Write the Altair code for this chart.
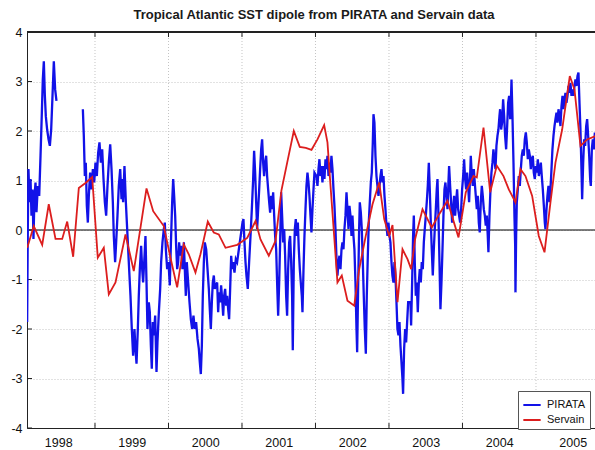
import altair as alt
import pandas as pd

TITLE = "Tropical Atlantic SST dipole from PIRATA and Servain data"

# PIRATA dipole index, first stretch of 1998 (gap follows)
pirata_t1 = [1998.077, 1998.086, 1998.095, 1998.109, 1998.123, 1998.136, 1998.150, 1998.163,
             1998.177, 1998.191, 1998.204, 1998.222, 1998.241, 1998.259, 1998.277, 1998.290,
             1998.304, 1998.318, 1998.331, 1998.349, 1998.368, 1998.386, 1998.404, 1998.422,
             1998.440, 1998.458, 1998.476]
pirata_v1 = [-1.86, 0.02, 1.23, 0.56, 1.03, 0.29, 0.82, -0.18,
             0.69, 0.96, 0.36, 0.89, 0.69, 1.50, 2.37, 3.04,
             3.41, 2.71, 2.30, 2.03, 1.83, 1.70, 2.03, 2.71,
             3.41, 2.84, 2.61]

# PIRATA dipole index, late 1998 onwards
pirata_t2 = [
    1998.835, 1998.848, 1998.862, 1998.875, 1998.889, 1998.903, 1998.916, 1998.934, 1998.953, 1998.971,
    1998.989, 1999.007, 1999.025, 1999.043, 1999.061, 1999.080, 1999.098, 1999.116, 1999.134, 1999.152,
    1999.170, 1999.188, 1999.207, 1999.225, 1999.243, 1999.256, 1999.274, 1999.288, 1999.306, 1999.324,
    1999.343, 1999.361, 1999.365, 1999.383, 1999.401, 1999.420, 1999.438, 1999.460, 1999.483, 1999.501,
    1999.519, 1999.537, 1999.551, 1999.565, 1999.583, 1999.596, 1999.610, 1999.628, 1999.642, 1999.655,
    1999.674, 1999.687, 1999.701, 1999.714, 1999.732, 1999.746, 1999.760, 1999.773, 1999.787, 1999.800,
    1999.819, 1999.837, 1999.850, 1999.869, 1999.887, 1999.900, 1999.918, 1999.937, 1999.950, 1999.964,
    1999.982, 2000.000, 2000.018, 2000.032, 2000.050, 2000.064, 2000.077, 2000.091, 2000.104, 2000.118,
    2000.132, 2000.145, 2000.159, 2000.172, 2000.190, 2000.209, 2000.222, 2000.236, 2000.249, 2000.268,
    2000.286, 2000.304, 2000.322, 2000.340, 2000.358, 2000.376, 2000.395, 2000.413, 2000.426, 2000.440,
    2000.454, 2000.467, 2000.481, 2000.494, 2000.513, 2000.531, 2000.549, 2000.562, 2000.576, 2000.590,
    2000.603, 2000.617, 2000.630, 2000.662, 2000.676, 2000.689, 2000.703, 2000.716, 2000.730, 2000.744,
    2000.757, 2000.771, 2000.785, 2000.798, 2000.812, 2000.825, 2000.839, 2000.853, 2000.866, 2000.880,
    2000.898, 2000.916, 2000.934, 2000.952, 2000.970, 2000.989, 2001.007, 2001.020, 2001.034, 2001.048,
    2001.061, 2001.079, 2001.097, 2001.116, 2001.134, 2001.152, 2001.165, 2001.179, 2001.193, 2001.206,
    2001.220, 2001.234, 2001.247, 2001.261, 2001.274, 2001.288, 2001.301, 2001.315, 2001.329, 2001.342,
    2001.356, 2001.370, 2001.383, 2001.397, 2001.410, 2001.424, 2001.438, 2001.451, 2001.465, 2001.478,
    2001.492, 2001.506, 2001.519, 2001.533, 2001.546, 2001.560, 2001.574, 2001.587, 2001.601, 2001.614,
    2001.628, 2001.642, 2001.655, 2001.669, 2001.682, 2001.691, 2001.705, 2001.719, 2001.732, 2001.746,
    2001.760, 2001.773, 2001.787, 2001.800, 2001.814, 2001.823, 2001.837, 2001.850, 2001.864, 2001.877,
    2001.891, 2001.905, 2001.918, 2001.932, 2001.945, 2001.959, 2001.973, 2001.986, 2002.013, 2002.027,
    2002.041, 2002.054, 2002.068, 2002.081, 2002.095, 2002.109, 2002.122, 2002.136, 2002.149, 2002.163,
    2002.177, 2002.190, 2002.204, 2002.217, 2002.231, 2002.245, 2002.258, 2002.272, 2002.286, 2002.299,
    2002.313, 2002.326, 2002.340, 2002.354, 2002.367, 2002.381, 2002.394, 2002.408, 2002.422, 2002.435,
    2002.449, 2002.462, 2002.476, 2002.490, 2002.503, 2002.517, 2002.530, 2002.544, 2002.558, 2002.567,
    2002.580, 2002.594, 2002.603, 2002.617, 2002.630, 2002.644, 2002.657, 2002.671, 2002.685, 2002.698,
    2002.712, 2002.725, 2002.739, 2002.753, 2002.766, 2002.780, 2002.789, 2002.802, 2002.816, 2002.830,
    2002.843, 2002.857, 2002.871, 2002.884, 2002.898, 2002.911, 2002.925, 2002.939, 2002.952, 2002.966,
    2002.979, 2002.993, 2003.007, 2003.020, 2003.034, 2003.047, 2003.061, 2003.075, 2003.088, 2003.102,
    2003.115, 2003.129, 2003.143, 2003.156, 2003.170, 2003.183, 2003.192, 2003.206, 2003.220, 2003.233,
    2003.247, 2003.261, 2003.292, 2003.301, 2003.315, 2003.328, 2003.338, 2003.351, 2003.365, 2003.378,
    2003.392, 2003.406, 2003.419, 2003.433, 2003.446, 2003.460, 2003.474, 2003.487, 2003.501, 2003.514,
    2003.528, 2003.542, 2003.555, 2003.569, 2003.582, 2003.596, 2003.610, 2003.623, 2003.637, 2003.650,
    2003.660, 2003.673, 2003.687, 2003.700, 2003.714, 2003.728, 2003.741, 2003.755, 2003.768, 2003.782,
    2003.796, 2003.809, 2003.818, 2003.832, 2003.845, 2003.859, 2003.873, 2003.886, 2003.900, 2003.913,
    2003.927, 2003.941, 2003.954, 2003.968, 2003.982, 2003.995, 2004.009, 2004.022, 2004.036, 2004.050,
    2004.063, 2004.077, 2004.090, 2004.104, 2004.113, 2004.127, 2004.140, 2004.154, 2004.167, 2004.181,
    2004.195, 2004.208, 2004.222, 2004.235, 2004.249, 2004.263, 2004.276, 2004.290, 2004.304, 2004.317,
    2004.331, 2004.344, 2004.353, 2004.367, 2004.381, 2004.394, 2004.408, 2004.421, 2004.435, 2004.449,
    2004.462, 2004.476, 2004.489, 2004.503, 2004.512, 2004.526, 2004.539, 2004.553, 2004.567, 2004.580,
    2004.594, 2004.608, 2004.621, 2004.635, 2004.649, 2004.658, 2004.667, 2004.680, 2004.694, 2004.707,
    2004.717, 2004.721, 2004.730, 2004.739, 2004.753, 2004.766, 2004.780, 2004.794, 2004.807, 2004.821,
    2004.834, 2004.848, 2004.862, 2004.875, 2004.889, 2004.902, 2004.916, 2004.930, 2004.943, 2004.957,
    2004.970, 2004.984, 2004.998, 2005.011, 2005.025, 2005.039, 2005.052, 2005.066, 2005.079, 2005.093,
    2005.107, 2005.120, 2005.129, 2005.143, 2005.156, 2005.170, 2005.184, 2005.197, 2005.211, 2005.224,
    2005.238, 2005.252, 2005.265, 2005.279, 2005.292, 2005.306, 2005.320, 2005.333, 2005.347, 2005.361,
    2005.374, 2005.388, 2005.401, 2005.415, 2005.429, 2005.442, 2005.456, 2005.469, 2005.483, 2005.497,
    2005.510, 2005.524, 2005.537, 2005.551, 2005.565, 2005.578, 2005.592, 2005.605, 2005.619, 2005.628,
    2005.642, 2005.655, 2005.669, 2005.683, 2005.696, 2005.710, 2005.724, 2005.737, 2005.746, 2005.760,
    2005.773, 2005.787, 2005.801, 2005.810]
pirata_v2 = [
    2.44, 1.90, 1.09, 1.36, 0.49, 0.15, 0.69, 1.16, 0.82, 1.23,
    0.96, 1.36, 1.09, 1.56, 1.77, 1.36, 1.63, 1.03, 0.56, 0.29,
    0.89, 1.36, 1.73, 1.23, 0.56, -0.12, -0.65, -0.25, 0.29, 0.89,
    1.23, 0.62, 1.03, 0.56, 1.29, 0.56, 0.02, -0.65, -1.33, -2.00,
    -2.54, -2.00, -2.40, -2.70, -2.00, -1.33, -0.79, -0.32, -0.79, -1.06,
    -0.52, -0.12, -1.06, -2.00, -1.46, -1.66, -2.33, -2.80, -1.86, -2.13,
    -1.73, -2.87, -2.27, -1.66, -1.19, -0.65, -0.25, 0.02, 0.15, -0.39,
    -0.79, -0.65, -1.12, -0.32, 0.56, 1.03, 0.69, 0.29, -0.32, -0.79,
    -0.65, -0.25, -0.52, -0.32, -0.79, -0.25, -0.79, -1.33, -0.65, -1.06,
    -1.46, -1.80, -2.00, -1.73, -2.00, -1.86, -2.20, -2.40, -2.67, -2.91,
    -2.33, -1.33, -0.65, -0.25, -0.39, -0.79, -1.19, -1.60, -2.00, -1.46,
    -1.06, -0.92, -1.19, -1.06, -1.66, -1.26, -1.46, -1.12, -1.39, -1.73,
    -1.33, -1.19, -1.53, -1.33, -1.60, -1.80, -1.19, -0.52, -0.79, -0.65,
    -0.86, -0.59, -0.65, -0.45, -0.25, -0.05, 0.15, 0.22, -0.25, -0.65,
    -0.92, -1.19, -0.65, -0.12, 0.42, 1.03, 1.60, 1.16, 0.56, 0.02,
    0.42, 0.82, 1.23, 1.63, 1.83, 1.36, 1.09, 1.36, 1.50, 1.09,
    0.82, 0.56, 0.35, 0.69, 0.42, 0.76, 0.29, -0.12, -0.39, -1.06,
    -1.73, -1.06, -0.25, 0.76, 0.29, -0.25, 0.02, -0.52, -1.33, -1.73,
    -0.79, -0.25, -0.12, -0.65, -1.33, -2.43, -0.65, 0.02, 0.22, -0.12,
    0.15, -0.39, -0.79, -1.06, -1.33, -1.66, -0.79, -0.12, 0.42, 0.89,
    1.16, 0.96, 0.69, 0.29, -0.05, 0.42, 0.82, 1.16, 1.09, 0.89,
    1.23, 1.43, 1.09, 1.29, 0.96, 1.29, 1.03, 1.43, 1.23, 1.50,
    1.09, 1.36, 1.16, 1.50, 1.23, 0.82, 0.49, 0.02, -0.59, -0.92,
    -0.65, -0.52, -0.79, -0.39, -0.25, -0.39, 0.02, 0.29, 0.76, 0.42,
    0.02, 0.49, 0.29, -0.12, 0.29, -0.12, -0.39, -1.06, -2.00, -2.47,
    -1.19, 0.02, 0.56, 0.35, 0.02, -0.65, -1.33, -2.00, -2.50, -1.33,
    -0.52, 0.15, 0.56, 0.96, 1.16, 1.77, 2.34, 2.17, 1.50, 1.09,
    0.89, 0.69, 0.89, 1.09, 1.23, 0.96, 1.09, 0.69, 0.42, 0.09,
    -0.12, 0.15, -0.12, -0.25, -0.65, -0.92, -1.06, -0.65, -0.92, -1.46,
    -2.00, -2.13, -1.86, -2.33, -2.67, -3.00, -3.31, -2.40, -2.00, -2.27,
    -1.86, -1.46, -1.46, -1.93, -1.06, -0.12, 0.29, -0.65, -1.33, -1.06,
    -1.66, -1.06, -0.79, -1.06, -0.65, -0.79, -0.25, 0.02, 0.29, 0.56,
    0.89, 1.36, 0.82, 0.15, -0.39, -0.92, -0.39, 0.02, 0.42, 0.82,
    1.03, 0.29, -0.65, -1.60, -1.06, -0.39, 0.29, 0.82, 0.96, 0.69,
    0.42, 0.96, 1.29, 0.89, 0.56, 0.15, 0.42, 0.69, 0.29, 0.56,
    0.82, 0.42, 0.29, 0.15, 0.42, 0.82, 1.09, 1.43, 1.03, 0.82,
    1.16, 0.89, 0.56, 1.09, 1.50, 1.09, 0.89, 1.23, 0.96, 0.69,
    0.42, 0.69, 0.15, -0.05, 0.56, 0.89, 0.69, 0.42, 0.29, 0.09,
    0.29, -0.12, -0.45, 0.29, 0.82, 1.16, 1.36, 1.63, 1.43, 1.23,
    1.70, 1.90, 2.03, 2.30, 2.44, 2.03, 2.17, 2.64, 2.30, 1.90,
    1.63, 2.10, 2.57, 2.71, 2.24, 2.57, 3.04, 2.30, 1.36, 0.29,
    -0.32, -1.26, -0.12, 0.56, 0.82, 1.09, 0.89, 1.23, 1.50, 1.63,
    1.50, 1.83, 1.97, 1.77, 1.43, 1.63, 1.50, 1.23, 1.43, 1.50,
    1.16, 1.03, 1.29, 1.16, 1.43, 1.09, 1.23, 1.36, 1.09, 0.82,
    0.49, 0.15, 0.02, 0.42, 0.69, 0.89, 0.56, 0.82, 1.23, 1.63,
    1.90, 2.10, 2.24, 2.37, 2.17, 2.44, 2.30, 2.10, 2.50, 2.71,
    2.44, 2.64, 2.77, 2.57, 2.71, 2.91, 2.77, 2.97, 2.71, 2.84,
    2.71, 2.91, 3.04, 2.91, 3.11, 3.18, 2.57, 2.03, 1.23, 0.62,
    1.36, 1.83, 1.70, 2.10, 2.24, 1.90, 1.50, 1.03, 0.89, 1.63,
    1.83, 1.63, 1.97, 1.83]

# Servain dipole index (monthly)
servain_t = [1998.078, 1998.167, 1998.282, 1998.371, 1998.463, 1998.554, 1998.622, 1998.703,
             1998.780, 1998.871, 1998.962, 1999.038, 1999.120, 1999.188, 1999.279, 1999.415,
             1999.528, 1999.619, 1999.701, 1999.792, 1999.936, 2000.027, 2000.118, 2000.208,
             2000.276, 2000.367, 2000.435, 2000.535, 2000.616, 2000.684, 2000.776, 2000.935,
             2001.071, 2001.184, 2001.252, 2001.365, 2001.456, 2001.537, 2001.615, 2001.705,
             2001.786, 2001.868, 2001.946, 2002.027, 2002.118, 2002.163, 2002.208, 2002.254,
             2002.299, 2002.358, 2002.435, 2002.527, 2002.595, 2002.684, 2002.776, 2002.867,
             2002.935, 2003.003, 2003.048, 2003.116, 2003.184, 2003.252, 2003.302, 2003.356,
             2003.456, 2003.582, 2003.683, 2003.796, 2003.864, 2003.946, 2004.045, 2004.150,
             2004.195, 2004.286, 2004.377, 2004.467, 2004.558, 2004.630, 2004.721, 2004.789,
             2004.857, 2004.948, 2005.038, 2005.116, 2005.197, 2005.265, 2005.356, 2005.460,
             2005.524, 2005.605, 2005.697, 2005.810]
servain_v = [-0.36, 0.08, -0.30, 0.52, -0.18, -0.18, 0.17, -0.54,
             0.85, 0.95, 1.07, -0.56, -0.36, -1.30, -1.06, -0.09,
             -0.83, 0.05, 0.84, 0.38, 0.08, -0.56, -1.16, -0.29,
             -0.49, -0.86, -0.49, 0.17, -0.05, -0.09, -0.36, -0.30,
             -0.16, 0.18, -0.19, -0.52, -0.22, 0.80, 1.36, 2.00,
             1.68, 1.66, 1.62, 1.83, 2.12, 1.77, 0.82, -0.12,
             -1.06, -0.92, -1.43, -1.53, -0.79, -0.12, 0.52, 0.96,
             0.22, -0.12, 0.10, -1.46, -0.39, -0.59, -0.79, -0.18,
             0.42, 0.05, 0.32, 0.59, 0.25, -0.15, 0.76, 1.09,
             1.06, 2.07, 0.76, 1.30, 1.09, 0.82, 0.56, 1.23,
             1.09, 0.69, -0.12, -0.45, 0.56, 1.36, 2.03, 3.11,
             2.84, 1.70, 1.83, 1.90]

year_bounds = [1999, 2000, 2001, 2002, 2003, 2004, 2005]
year_labels = [1998, 1999, 2000, 2001, 2002, 2003, 2004, 2005]
y_ticks = [-4, -3, -2, -1, 0, 1, 2, 3, 4]
series_names = ["PIRATA", "Servain"]

X_DOMAIN = [1998.075, 2005.803]
Y_DOMAIN = [-4, 4]
W, H = 568, 396
BLUE = "#1212e8"
RED = "#dc1e1e"
FONT = "Liberation Sans"
GRID = "#c4c4c4"
INK = "#111111"

# ---- tables ----
pirata = pd.DataFrame(
    [{"year": t, "sst": v, "series": "PIRATA", "seg": "a"} for t, v in zip(pirata_t1, pirata_v1)]
    + [{"year": t, "sst": v, "series": "PIRATA", "seg": "b"} for t, v in zip(pirata_t2, pirata_v2)]
)
servain = pd.DataFrame({"year": servain_t, "sst": servain_v, "series": "Servain"})
bounds = pd.DataFrame({"year": year_bounds})
yt = pd.DataFrame({"v": y_ticks})

xs = alt.Scale(domain=X_DOMAIN, nice=False, zero=False)
ys = alt.Scale(domain=Y_DOMAIN, nice=False, zero=False)
color = alt.Color(
    "series:N",
    scale=alt.Scale(domain=series_names, range=[BLUE, RED]),
    legend=alt.Legend(
        title=None, orient="none", legendX=491, legendY=359,
        direction="vertical", symbolType="stroke", symbolSize=300,
        symbolStrokeWidth=2, labelFont=FONT, labelFontSize=11, labelColor=INK,
        fillColor="white", strokeColor="#555", padding=4, rowPadding=0,
        labelOffset=5, cornerRadius=0,
    ),
)

x_axis = alt.Axis(
    values=[y + 0.5 for y in year_labels], labelExpr="'' + floor(datum.value)",
    grid=False, ticks=False, domain=True, domainColor="#222", domainWidth=1,
    labelFont=FONT, labelFontSize=12.5, labelColor=INK, labelPadding=8, title=None,
)
y_axis = alt.Axis(
    values=y_ticks, labelExpr="'' + datum.value", grid=True, gridColor=GRID,
    gridDash=[1, 2], gridWidth=1, ticks=False, domain=True, domainColor="#222",
    labelFont=FONT, labelFontSize=12.5, labelColor=INK, labelPadding=5, title=None,
)

# vertical dotted grid at year boundaries
vgrid = alt.Chart(bounds).mark_rule(color=GRID, strokeDash=[1, 2], strokeWidth=1).encode(
    x=alt.X("year:Q", scale=xs, axis=x_axis)
)

# inward ticks at year boundaries, bottom and top, and at each y value on the left
tick_bottom = alt.Chart(bounds).mark_rule(color="#222").encode(
    x=alt.X("year:Q", scale=xs), y=alt.value(H), y2=alt.value(H - 5)
)
tick_top = alt.Chart(bounds).mark_rule(color="#222").encode(
    x=alt.X("year:Q", scale=xs), y=alt.value(0), y2=alt.value(5)
)
tick_left = alt.Chart(yt).mark_rule(color="#222").encode(
    y=alt.Y("v:Q", scale=ys, axis=y_axis), x=alt.value(0), x2=alt.value(5)
)
top_border = alt.Chart(yt).mark_rule(color="#222").encode(
    x=alt.value(0), x2=alt.value(W), y=alt.value(0)
)

zero_line = alt.Chart(pd.DataFrame({"v": [0]})).mark_rule(color="black", strokeWidth=1.2).encode(
    y=alt.Y("v:Q", scale=ys)
)

pirata_line = alt.Chart(pirata).mark_line(strokeWidth=2.3, clip=True).encode(
    x=alt.X("year:Q", scale=xs),
    y=alt.Y("sst:Q", scale=ys),
    color=color,
    detail="seg:N",
)
servain_line = alt.Chart(servain).mark_line(strokeWidth=1.8, clip=True).encode(
    x=alt.X("year:Q", scale=xs),
    y=alt.Y("sst:Q", scale=ys),
    color=color,
)

chart = (
    alt.layer(vgrid, tick_left, zero_line, pirata_line, servain_line,
              tick_bottom, tick_top, top_border)
    .properties(
        width=W, height=H,
        title=alt.TitleParams(TITLE, font=FONT, fontSize=13, fontWeight="bold",
                              color="#1a1a1a", anchor="middle", offset=4, dx=3),
        autosize=alt.AutoSizeParams(type="none"),
        padding={"left": 27, "top": 32, "right": 0, "bottom": 22},
    )
    .configure_view(stroke=None)
    .configure(background="white")
)

chart.save("out.html", embed_options={"renderer": "svg", "actions": False})
